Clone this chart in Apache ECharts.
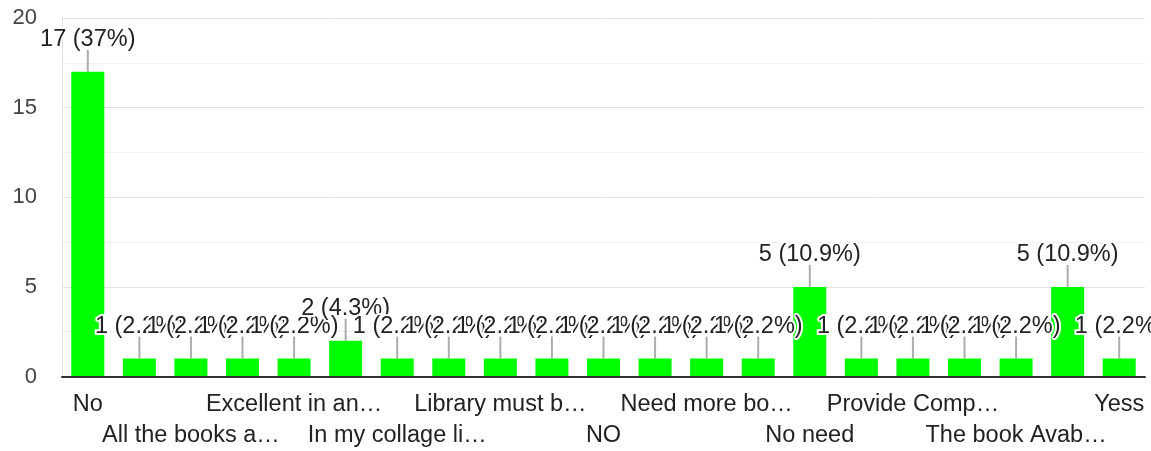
<!DOCTYPE html>
<html>
<head>
<meta charset="utf-8">
<script src="https://cdn.jsdelivr.net/npm/echarts@6/dist/echarts.min.js"></script>
<style>
html,body{margin:0;padding:0;background:#fff;}
#chart{width:1151px;height:451px;}
</style>
</head>
<body>
<div id="chart"></div>
<script>
// Categories (visible labels as truncated in the reference; odd ones are hidden by the axis)
const categories = [
  "No", "A good library", "All the books a\u2026", "Books are good", "Excellent in an\u2026",
  "Good", "In my collage li\u2026", "It is good", "Library must b\u2026", "More books nee\u2026",
  "NO", "Need good bo\u2026", "Need more bo\u2026", "Nil", "No need",
  "Nothing", "Provide Comp\u2026", "Satisfied", "The book Avab\u2026", "Yes", "Yess"
];
const values = [17, 1, 1, 1, 1, 2, 1, 1, 1, 1, 1, 1, 1, 1, 5, 1, 1, 1, 1, 5, 1];
const yTicks = [0, 5, 10, 15, 20];

const total = values.reduce((a, b) => a + b, 0);
function pct(v) { return Math.round(v / total * 1000) / 10; }

const FONT = '"Liberation Sans", Arial, sans-serif';
const LABEL = {fontSize: 23.5, color: '#222', fontFamily: FONT, showMinLabel: true, showMaxLabel: true};
const chart = echarts.init(document.getElementById('chart'), null, {renderer: 'canvas'});
chart.setOption({
  animation: false,
  grid: {left: 62, right: 6, top: 18, bottom: 74.5, containLabel: false},
  xAxis: [
    {
      type: 'category',
      data: categories,
      position: 'bottom',
      axisLine: {show: true, lineStyle: {color: '#333', width: 2}},
      axisTick: {show: false},
      axisLabel: Object.assign({}, LABEL, {
        margin: 16,
        interval: function (i) { return i % 4 === 0; }
      }),
      splitLine: {show: false},
      z: 3
    },
    {
      type: 'category',
      data: categories,
      position: 'bottom',
      offset: 0,
      axisLine: {show: false},
      axisTick: {show: false},
      axisLabel: Object.assign({}, LABEL, {
        margin: 47,
        interval: function (i) { return i % 4 === 2; }
      }),
      splitLine: {show: false}
    }
  ],
  yAxis: {
    type: 'value',
    min: yTicks[0],
    max: yTicks[yTicks.length - 1],
    interval: 5,
    axisLine: {show: true, lineStyle: {color: '#e0e0e0', width: 1}},
    axisTick: {show: false},
    axisLabel: {margin: 25, fontSize: 22, color: '#444', fontFamily: FONT},
    splitLine: {show: true, lineStyle: {color: '#e0e0e0', width: 1}},
    minorTick: {show: false, splitNumber: 2},
    minorSplitLine: {show: true, lineStyle: {color: '#f0f0f0', width: 1}}
  },
  series: [
    {
      type: 'scatter',
      xAxisIndex: 0,
      data: values,
      symbol: 'rect',
      symbolSize: [2, 22],
      symbolOffset: [0, -11],
      itemStyle: {color: '#999'},
      z: 3,
      silent: true
    },
    {
      type: 'bar',
      xAxisIndex: 0,
      data: values,
      barCategoryGap: '36%',
      itemStyle: {color: '#00ff00'},
      z: 2,
      label: {
        show: true,
        position: 'top',
        distance: 20.5,
        fontSize: 23.5,
        lineHeight: 23,
        color: '#222',
        fontFamily: FONT,
        textBorderColor: '#fff',
        textBorderWidth: 4,
        formatter: function (p) { return p.value + ' (' + pct(p.value) + '%)'; }
      },
      labelLayout: {hideOverlap: false}
    }
  ]
});
</script>
</body>
</html>
